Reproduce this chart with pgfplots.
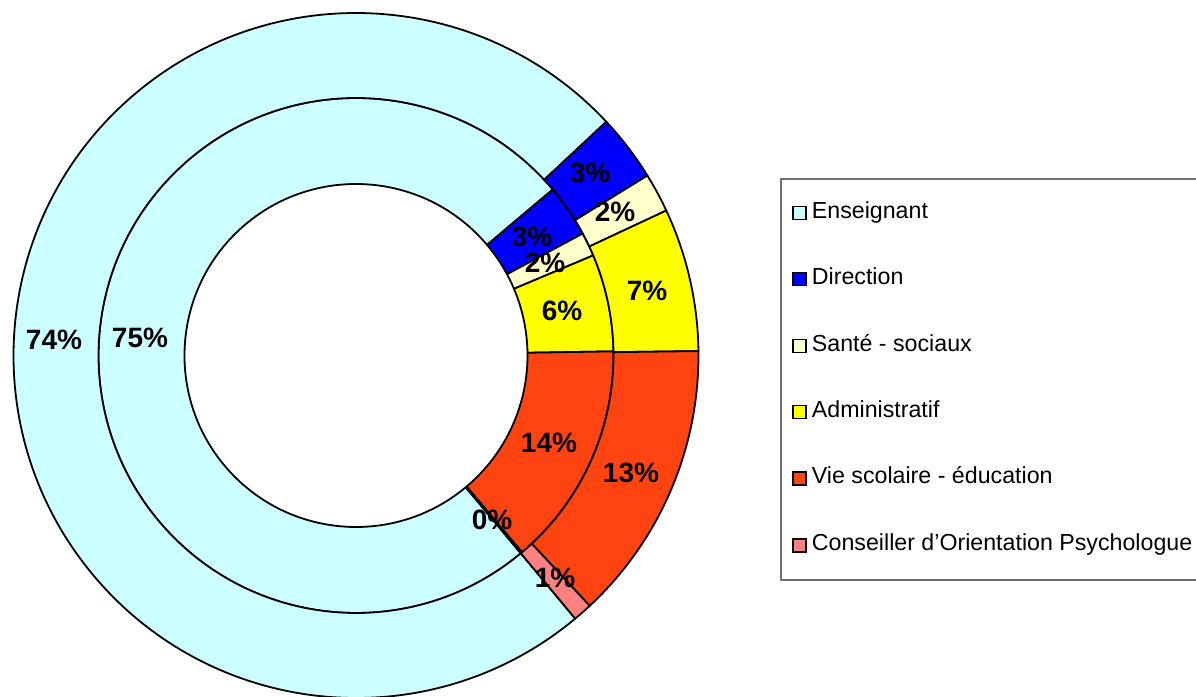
\documentclass[border=0pt]{standalone}
\usepackage{pgfplots}
\pgfplotsset{compat=1.18}
\usepackage{pgfplotstable}
\usepackage{fontspec}
\setmainfont{Liberation Sans}

\definecolor{sc0}{HTML}{CCFFFF}
\definecolor{sc1}{HTML}{0000FF}
\definecolor{sc2}{HTML}{FFFFCC}
\definecolor{sc3}{HTML}{FFFF00}
\definecolor{sc4}{HTML}{FF4411}
\definecolor{sc5}{HTML}{FF8080}
\definecolor{legframe}{HTML}{707070}

% shares in percent: inner ring and outer ring
\pgfplotstableread{
inner outer
74.9 74.1
3.3 3.15
1.5 1.85
6.1 6.75
14.1 13.25
0.1 0.9
}\ringdata

\newcommand\startang{140.2}
\newcommand\labelfont{\fontsize{14}{16}\selectfont\bfseries}
\newcommand\legfont{\fontsize{11.6}{14}\selectfont}

\begin{document}
\begin{tikzpicture}[x=0.5pt,y=0.5pt]
\path[use as bounding box] (0,0) rectangle (1196,697);
\xdef\cumI{0}\xdef\cumO{0}
\foreach \i in {0,...,5}{%
  \pgfplotstablegetelem{\i}{inner}\of\ringdata
  \let\vI\pgfplotsretval
  \pgfplotstablegetelem{\i}{outer}\of\ringdata
  \let\vO\pgfplotsretval
  \pgfmathsetmacro\aI{90-\startang-3.6*\cumI}%
  \pgfmathsetmacro\nI{\cumI+\vI}%
  \pgfmathsetmacro\bI{90-\startang-3.6*\nI}%
  \pgfmathsetmacro\aO{90-\startang-3.6*\cumO}%
  \pgfmathsetmacro\nO{\cumO+\vO}%
  \pgfmathsetmacro\bO{90-\startang-3.6*\nO}%
  \expandafter\xdef\csname iA\i\endcsname{\aI}%
  \expandafter\xdef\csname iB\i\endcsname{\bI}%
  \expandafter\xdef\csname oA\i\endcsname{\aO}%
  \expandafter\xdef\csname oB\i\endcsname{\bO}%
  \xdef\cumI{\nI}\xdef\cumO{\nO}%
}
\begin{axis}[at={(356,341.5)}, anchor=center, x=0.5pt, y=0.5pt,
  xmin=-360, xmax=360, ymin=-360, ymax=360, hide axis, clip=false]
\pgfplotsinvokeforeach{0,...,5}{%
  \edef\tmp{\noexpand\filldraw[fill=sc#1,draw=black,line width=0.9pt,line join=round]
   (axis cs:{257.5*cos(\csname iA#1\endcsname)},{257.5*sin(\csname iA#1\endcsname)})
   arc[start angle=\csname iA#1\endcsname,end angle=\csname iB#1\endcsname,radius=128.75pt]
   -- (axis cs:{171.5*cos(\csname iB#1\endcsname)},{171.5*sin(\csname iB#1\endcsname)})
   arc[start angle=\csname iB#1\endcsname,end angle=\csname iA#1\endcsname,radius=85.75pt]
   -- cycle;}\tmp
  \edef\tmp{\noexpand\filldraw[fill=sc#1,draw=black,line width=0.9pt,line join=round]
   (axis cs:{342.5*cos(\csname oA#1\endcsname)},{342.5*sin(\csname oA#1\endcsname)})
   arc[start angle=\csname oA#1\endcsname,end angle=\csname oB#1\endcsname,radius=171.25pt]
   -- (axis cs:{257.5*cos(\csname oB#1\endcsname)},{257.5*sin(\csname oB#1\endcsname)})
   arc[start angle=\csname oB#1\endcsname,end angle=\csname oA#1\endcsname,radius=128.75pt]
   -- cycle;}\tmp
}
\begin{scope}[every node/.style={font=\labelfont, inner sep=0pt}]
\node at (axis cs:-302,15.5) {74\%};
\node at (axis cs:-216,17.5) {75\%};
\node at (axis cs:234,182.5) {3\%};
\node at (axis cs:259,143.5) {2\%};
\node at (axis cs:176,118.5) {3\%};
\node at (axis cs:189,92.5) {2\%};
\node at (axis cs:206,44.5) {6\%};
\node at (axis cs:291,64.5) {7\%};
\node at (axis cs:193,-87.5) {14\%};
\node at (axis cs:275,-117.5) {13\%};
\node at (axis cs:136,-164.5) {0\%};
\node at (axis cs:199,-222.5) {1\%};
\end{scope}
\end{axis}
% legend
\draw[legframe, line width=0.8pt] (780.7,517.7) rectangle (1210,117);
\foreach \c/\yc/\t in {0/213/Enseignant, 1/279.3/Direction, 2/346/Santé - sociaux,
  3/412/Administratif, 4/478.5/Vie scolaire - éducation, 5/545.5/Conseiller d’Orientation Psychologue}{%
  \filldraw[fill=sc\c, draw=black, line width=0.6pt] (793,697-\yc-6.5) rectangle (806,697-\yc+6.5);
  \node[anchor=base west, inner sep=0pt, font=\legfont] at (811.5,697-\yc-5.3) {\t};
}
\end{tikzpicture}
\end{document}
